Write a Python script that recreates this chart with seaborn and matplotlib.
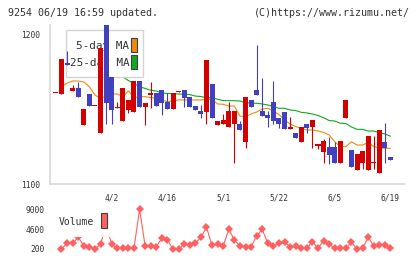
import numpy as np
import pandas as pd
import matplotlib
matplotlib.use("Agg")
import matplotlib.pyplot as plt
import seaborn as sns
from matplotlib.patches import Rectangle
from matplotlib.transforms import Affine2D

sns.set_style("white")
plt.rcParams['font.family'] = ['DejaVu Sans Mono', 'DejaVu Sans']

# ---------------- data ----------------
title_left = "9254 06/19 16:59 updated."
title_right = "(C)https://www.rizumu.net/"

slots = list(range(61))
opens = [1161, 1160, 1181, 1162, 1164.5, 1139.5, 1160, 1152, 1134.4, 1206.5,
         1172, 1150.7, 1142.4, 1149.6, 1148.4, 1169, 1151.8, 1159.6, 1160.7, 1163,
         1154.7, 1150.2, 1161.8, 1163, 1158.5, 1152.4, 1148.9, 1148.4, 1167, 1139.5,
         1140.2, 1138.4, 1140, 1140.2, 1128.3, 1156.3, 1163, 1148.9, 1146.2, 1154.7,
         1144, 1148, 1136.6, 1134, 1128.3, 1140.2, 1138, 1125.7, 1121.6, 1124.6,
         1124.6, 1114.3, 1144.4, 1122.8, 1109.4, 1114.3, 1109.4, 1114.3, 1107.6, 1127.9,
         1117.9]
closes = [1161, 1184, 1180, 1164, 1158, 1150, 1152, 1152, 1191, 1154.5,
          1149.6, 1150.7, 1164.5, 1156.3, 1169, 1151.8, 1154.1, 1160.7, 1152.4, 1154.5,
          1150.2, 1160.7, 1162.3, 1157.8, 1151.8, 1149.6, 1146.7, 1183.1, 1144.4, 1142.2,
          1142.9, 1148.9, 1148.9, 1136.2, 1158.3, 1151.8, 1159.6, 1145.7, 1144, 1142.2,
          1140.2, 1136.6, 1138, 1130.6, 1138.2, 1137.7, 1142.9, 1126.8, 1128.8, 1119.4,
          1114.3, 1128.8, 1156.3, 1111.6, 1120.1, 1122.1, 1132.1, 1114.3, 1136.2, 1124.3,
          1116.1]
highs = [1161, 1184, 1189, 1166, 1168.5, 1150, 1160, 1152, 1191, 1206.5,
         1172, 1154.9, 1164.5, 1156.3, 1169, 1169, 1154.1, 1168.1, 1160.7, 1163,
         1160.7, 1160.7, 1162.3, 1163, 1158.5, 1152.4, 1152.9, 1183.1, 1167, 1142.2,
         1146.9, 1154.7, 1148.9, 1142.2, 1158.3, 1156.3, 1193.1, 1170.8, 1148.9, 1169,
         1144, 1148, 1144.7, 1134, 1138.2, 1140.2, 1142.9, 1126.8, 1129.9, 1131.7,
         1128.3, 1128.8, 1156.3, 1122.8, 1120.1, 1122.1, 1132.1, 1132.1, 1136.2, 1140.7,
         1117.9]
lows = [1161, 1160, 1180, 1162, 1158, 1139.5, 1152, 1152, 1134.4, 1140,
        1140, 1150.7, 1142.4, 1147.8, 1148.4, 1151.8, 1139.5, 1150.7, 1152.4, 1146.2,
        1150.2, 1150.2, 1161.8, 1151.8, 1151.8, 1149.6, 1144, 1140, 1144.4, 1139.5,
        1140.2, 1138.4, 1114.3, 1136.2, 1123.9, 1151.8, 1159.6, 1145.7, 1138.4, 1140.2,
        1137.7, 1136.6, 1136.6, 1130.6, 1128.3, 1134, 1124.3, 1123.4, 1114.3, 1113.4,
        1114.3, 1114.3, 1144.4, 1111.6, 1109.4, 1110, 1109.4, 1110, 1107.6, 1114.3,
        1116.1]
# 'up' (red) or 'down' (blue)
kinds = ['up', 'up', 'down', 'up', 'down', 'up', 'down', 'up', 'up', 'down',
         'down', 'up', 'up', 'up', 'up', 'down', 'up', 'up', 'down', 'down',
         'down', 'up', 'up', 'down', 'down', 'down', 'down', 'up', 'down', 'up',
         'up', 'up', 'up', 'down', 'up', 'down', 'down', 'down', 'down', 'down',
         'down', 'down', 'up', 'down', 'up', 'down', 'up', 'up', 'up', 'down',
         'down', 'up', 'up', 'down', 'up', 'up', 'up', 'up', 'up', 'down',
         'down']

ma5_slots = list(range(1, 61))
ma5 = [1165.2, 1167.6, 1169.0, 1169.0, 1168.3, 1165.2, 1159.6, 1157.4, 1158.9, 1160.3,
       1160.3, 1158.5, 1162.3, 1157.8, 1158.5, 1158.5, 1157.9, 1157.4, 1156.3, 1155.1,
       1155.6, 1156.3, 1156.3, 1156.3, 1156.3, 1156.3, 1156.6, 1156.9, 1153.6, 1153.4,
       1152.2, 1152.2, 1145.5, 1145.1, 1146.9, 1148.2, 1150.2, 1150.7, 1148.9, 1146.5,
       1142.9, 1140.2, 1138.5, 1137.3, 1136.2, 1136.2, 1135.5, 1134.6, 1132.8, 1128.3,
       1125.0, 1125.0, 1128.3, 1126.1, 1126.1, 1127.8, 1125.1, 1124.1, 1123.9, 1123.9]

ma25_slots = list(range(12, 61))
ma25 = [1171.7, 1169.3, 1167.3, 1165.2, 1164.0, 1162.8, 1162.3, 1161.0, 1160.6, 1160.6,
        1160.3, 1160.1, 1159.9, 1158.9, 1158.6, 1157.8, 1157.8, 1156.7, 1155.9, 1155.8,
        1155.8, 1155.6, 1154.5, 1154.1, 1154.1, 1153.6, 1152.9, 1151.9, 1150.7, 1150.7,
        1149.6, 1149.2, 1148.0, 1147.6, 1146.9, 1145.9, 1144.4, 1142.5, 1142.2, 1140.7,
        1140.5, 1138.2, 1136.6, 1136.6, 1135.5, 1135.5, 1134.4, 1133.5, 1132.0]

vol_slots = list(range(1, 61))
volume = [200, 1450, 1450, 2790, 940, 720, 200, 1230, 5500, 1230,
          350, 350, 350, 350, 9000, 870, 870, 720, 2560, 2200,
          150, 150, 1310, 1090, 1450, 2790, 5000, 1010, 1310, 870,
          4560, 2200, 870, 720, 720, 3080, 4560, 1450, 870, 1450,
          1680, 720, 870, 350, 350, 1830, 350, 2050, 1230, 350,
          350, 350, 1680, 200, 350, 2790, 870, 1090, 1090, 350]

date_slots = [10, 20, 30, 40, 50, 60]
date_labels = ["4/2", "4/16", "5/1", "5/22", "6/5", "6/19"]
price_ticks = [1100, 1200]
vol_ticks = [200, 4600, 9000]
legend_labels = ["5-day MA", "25-day MA"]

# ---------------- style ----------------
RED = '#d40000'
BLUE = '#4040c0'
ORANGE = '#f08a10'
GREEN = '#12a820'
VOLC = '#ff6060'
GRID = '#d6d6d6'
TXT = '#333333'

W, H = 420, 259
fig = plt.figure(figsize=(W / 100, H / 100), dpi=100)
fig.patch.set_facecolor('white')
PX = Affine2D().scale(1.0 / W, -1.0 / H).translate(0, 1) + fig.transFigure


def fbox(x0, y0, x1, y1):
    return [x0 / W, 1 - y1 / H, (x1 - x0) / W, (y1 - y0) / H]


pitch = 5.576
x_first = 55.92
xlim = ((50 - x_first) / pitch, (405.3 - x_first) / pitch)

# ---------------- main axes ----------------
ax = fig.add_axes(fbox(50, 25, 405.3, 184))
ppx = 1.493  # px per yen
ax.set_xlim(*xlim)
ax.set_ylim(1100, 1100 + 159 / ppx)

df = pd.DataFrame({'slot': slots, 'open': opens, 'close': closes,
                   'high': highs, 'low': lows, 'kind': kinds})
df['bot'] = df[['open', 'close']].min(axis=1)
df['top'] = df[['open', 'close']].max(axis=1)
df['h'] = np.maximum(df['top'] - df['bot'], 0.7)
df['color'] = np.where(df['kind'] == 'up', RED, BLUE)

ax.vlines(df['slot'], df['low'], df['high'], colors=df['color'],
          linewidth=0.8, zorder=6)
ax.bar(df['slot'], df['h'], bottom=df['bot'], width=0.9, color=df['color'],
       linewidth=0, zorder=7, align='center')

sns.lineplot(x=ma5_slots, y=ma5, ax=ax, color=ORANGE, linewidth=0.8, zorder=3)
sns.lineplot(x=ma25_slots, y=ma25, ax=ax, color=GREEN, linewidth=0.8, zorder=3)

for s in ['top', 'right']:
    ax.spines[s].set_visible(False)
for s in ['left', 'bottom']:
    ax.spines[s].set_color(GRID)
    ax.spines[s].set_linewidth(1.1)

ax.set_yticks(price_ticks)
ax.set_yticklabels([str(t) for t in price_ticks])
ax.tick_params(axis='y', direction='inout', length=6, width=1, color=GRID,
               labelsize=5.7, labelcolor=TXT, pad=4)
ax.set_xticks(date_slots)
ax.set_xticklabels(date_labels)
ax.tick_params(axis='x', which='major', length=0, labelsize=5.7,
               labelcolor=TXT, pad=6.7)
minor = [xlim[0] + k * (xlim[1] - xlim[0]) / 11 for k in range(12)]
ax.set_xticks(minor, minor=True)
ax.tick_params(axis='x', which='minor', direction='inout', length=5.5,
               width=1, color=GRID)
ax.set_xlabel('')
ax.set_ylabel('')

# legend (drawn between MA lines and candles)
ax.add_patch(Rectangle((65.7, 30), 77.6, 47.3, transform=PX, facecolor='white',
                       edgecolor='#d4d4d4', linewidth=1.0, zorder=5, clip_on=False))
ax.text(129.5, 45.7, legend_labels[0], transform=PX, ha='right', va='center',
        fontsize=7.9, color=TXT, zorder=5.5)
ax.text(129.5, 63.3, legend_labels[1], transform=PX, ha='right', va='center',
        fontsize=7.9, color=TXT, zorder=5.5)
ax.add_patch(Rectangle((131.2, 37.7), 6, 14, transform=PX, facecolor=ORANGE,
                       edgecolor='#404040', linewidth=0.8, zorder=5.5, clip_on=False))
ax.add_patch(Rectangle((131.2, 55.3), 6, 14, transform=PX, facecolor=GREEN,
                       edgecolor='#404040', linewidth=0.8, zorder=5.5, clip_on=False))

# ---------------- volume axes ----------------
vy0, vy1 = 205, 253
vax = fig.add_axes(fbox(50, vy0, 405.3, vy1))
vpp = 39.7 / 8800  # px per share


def vval(py):
    return 200 + (249 - py) / vpp


vax.set_xlim(*xlim)
vax.set_ylim(vval(vy1), vval(vy0))
sns.lineplot(x=vol_slots, y=volume, ax=vax, color=VOLC, linewidth=0.8,
             marker='D', markersize=4.2, markeredgewidth=0, zorder=3)
for s in vax.spines.values():
    s.set_visible(False)
vax.set_xticks([])
vax.set_yticks(vol_ticks)
vax.set_yticklabels([str(t) for t in vol_ticks])
vax.tick_params(axis='y', length=0, labelsize=5.7, labelcolor=TXT, pad=4.2)
vax.set_xlabel('')
vax.set_ylabel('')
vax.patch.set_alpha(0)

vax.add_patch(Rectangle((55, 205), 55, 32.3, transform=PX, facecolor='white',
                        edgecolor='none', zorder=5, clip_on=False))
vax.text(58.3, 222.3, "Volume", transform=PX, ha='left', va='center',
         fontsize=7.0, color=TXT, zorder=6)
vax.add_patch(Rectangle((101.2, 213.3), 6, 15, transform=PX, facecolor=VOLC,
                        edgecolor='#404040', linewidth=0.8, zorder=6, clip_on=False))

# ---------------- header ----------------
fig.text(8 / W, 1 - 13.3 / H, title_left, ha='left', va='center',
         fontsize=7.2, color=TXT)
fig.text(410 / W, 1 - 13.3 / H, title_right, ha='right', va='center',
         fontsize=7.2, color=TXT)

fig.savefig('out.png', dpi=100, facecolor='white')
